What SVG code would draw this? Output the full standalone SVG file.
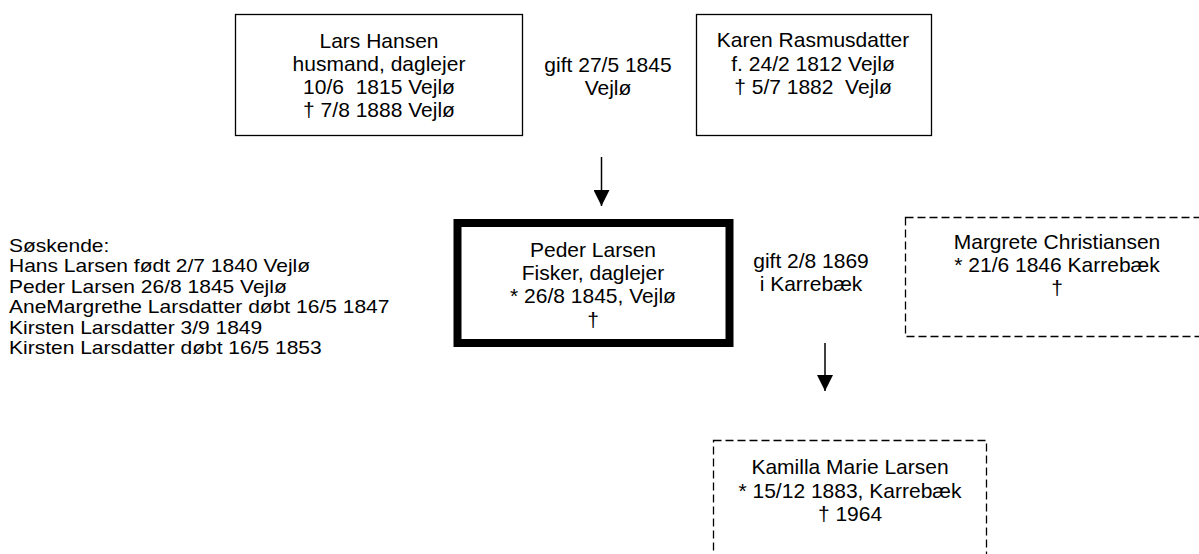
<svg xmlns="http://www.w3.org/2000/svg" width="1199" height="554" viewBox="0 0 1199 554">
<style>
text{font-family:"Liberation Sans",Arial,sans-serif;font-size:21px;fill:#000}
.c{text-anchor:middle}
#siblings text{font-size:18px}
.box{fill:#fff;stroke:#000;stroke-width:1.3}
.thick{fill:#fff;stroke:#000;stroke-width:8}
.dash{fill:none;stroke:#000;stroke-width:1.3;stroke-dasharray:8 4}
.arr{stroke:#000;stroke-width:1.5;fill:none}
</style>
<defs>
<marker id="ah" markerWidth="16" markerHeight="16" viewBox="0 0 16 16" refX="16" refY="8" orient="auto" markerUnits="userSpaceOnUse">
<path d="M0,0 L16,8 L0,16 Z" fill="#000"/>
</marker>
</defs>
<g id="lars">
<rect class="box" x="235.5" y="14.5" width="287" height="121"/>
<text class="c" x="379" y="48">Lars Hansen</text>
<text class="c" x="379" y="71">husmand, daglejer</text>
<text class="c" x="379" y="94">10/6&#160; 1815 Vejlø</text>
<text class="c" x="379" y="117">† 7/8 1888 Vejlø</text>
</g>
<g id="marriage1">
<text class="c" x="608" y="72">gift 27/5 1845</text>
<text class="c" x="608" y="95">Vejlø</text>
</g>
<g id="karen">
<rect class="box" x="696.5" y="14.5" width="235" height="121"/>
<text class="c" x="813" y="47">Karen Rasmusdatter</text>
<text class="c" x="813" y="71">f. 24/2 1812 Vejlø</text>
<text class="c" x="813" y="94">† 5/7 1882&#160; Vejlø</text>
</g>
<g id="peder">
<rect class="thick" x="457.5" y="223" width="272" height="120"/>
<text class="c" x="593" y="257">Peder Larsen</text>
<text class="c" x="593" y="280">Fisker, daglejer</text>
<text class="c" x="593" y="303">* 26/8 1845, Vejlø</text>
<text class="c" x="593" y="327">†</text>
</g>
<g id="marriage2">
<text class="c" x="811" y="268">gift 2/8 1869</text>
<text class="c" x="811" y="291">i Karrebæk</text>
</g>
<g id="margrete">
<rect class="dash" x="905.5" y="217.5" width="305" height="119"/>
<text class="c" x="1057" y="249">Margrete Christiansen</text>
<text class="c" x="1057" y="272">* 21/6 1846 Karrebæk</text>
<text class="c" x="1057" y="295">†</text>
</g>
<g id="kamilla">
<rect class="dash" x="713.5" y="440.5" width="273" height="130"/>
<text class="c" x="850" y="474">Kamilla Marie Larsen</text>
<text class="c" x="850" y="498">* 15/12 1883, Karrebæk</text>
<text class="c" x="850" y="521">† 1964</text>
</g>
<g id="siblings" transform="translate(9,0) scale(1.167,1)">
<text x="0" y="252">Søskende:</text>
<text x="0" y="272.5">Hans Larsen født 2/7 1840 Vejlø</text>
<text x="0" y="293">Peder Larsen 26/8 1845 Vejlø</text>
<text x="0" y="313.5">AneMargrethe Larsdatter døbt 16/5 1847</text>
<text x="0" y="334">Kirsten Larsdatter 3/9 1849</text>
<text x="0" y="354.5">Kirsten Larsdatter døbt 16/5 1853</text>
</g>
<g id="connectors">
<line class="arr" x1="601.5" y1="157" x2="601.5" y2="206" marker-end="url(#ah)"/>
<line class="arr" x1="825" y1="343" x2="825" y2="391" marker-end="url(#ah)"/>
</g>
</svg>
